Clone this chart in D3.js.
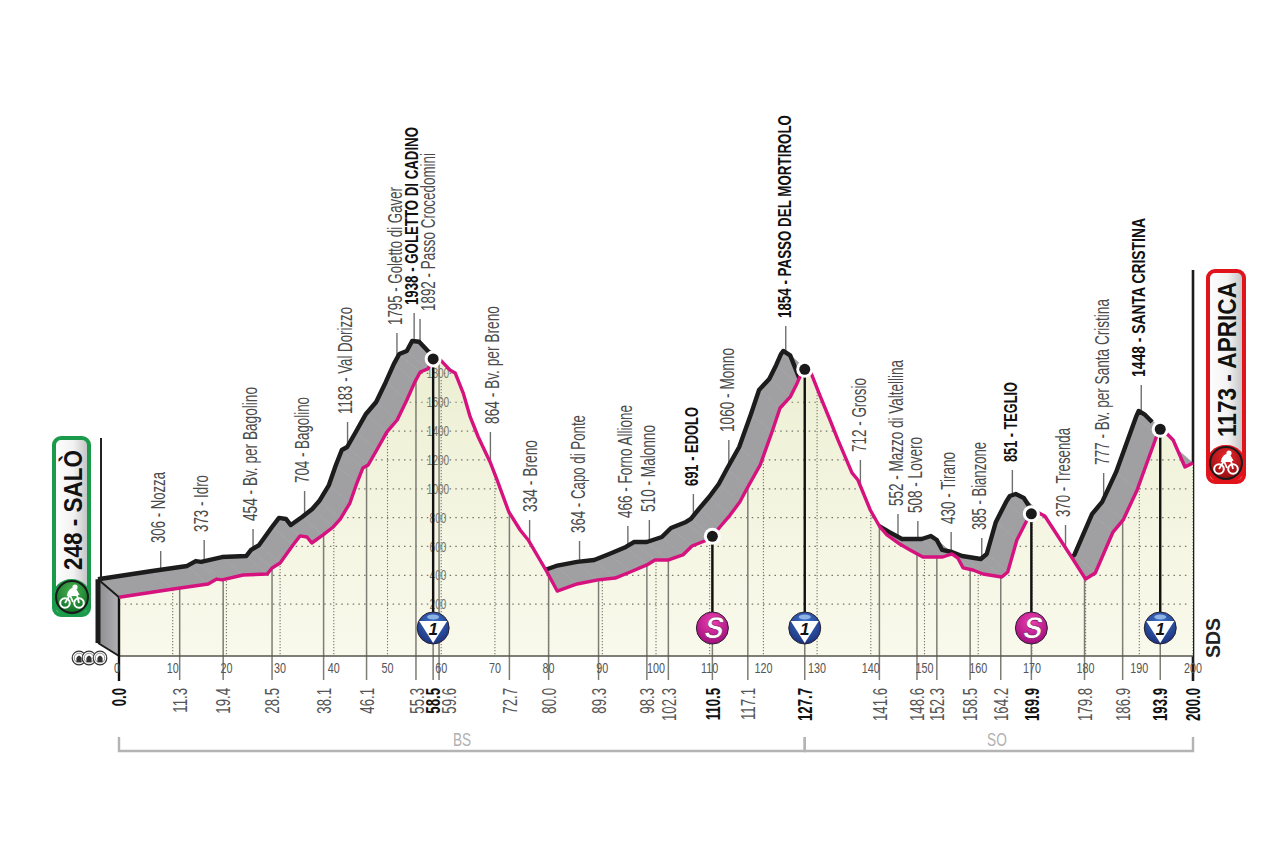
<!DOCTYPE html>
<html><head><meta charset="utf-8">
<script src="https://cdnjs.cloudflare.com/ajax/libs/d3/7.8.5/d3.min.js"></script>
<style>html,body{margin:0;padding:0;background:#fff}svg{display:block}text{font-family:"Liberation Sans",Arial,sans-serif}</style>
</head><body><svg id="c" width="1280" height="852"></svg>
<script>
// ---- data ----
const profileKm=[0,10.1,16.6,18.2,19.2,23.1,27.6,28.5,30,32.4,33.7,35,35.9,38,39.9,41.2,43,44.3,45.4,46.4,48,49.9,51.8,53.6,55.1,56.1,57.5,58.5,59.8,61.6,62.6,64.1,65.4,66.9,69.1,70.4,72.6,74.7,76.2,79.7,81.6,85.3,89.2,92.4,95.2,98.3,99.8,102.2,105,106.7,109.5,110.4,111.9,113.8,115.6,117.1,119.4,121.6,123.1,125,126.3,127.2,127.6,128.9,130.5,132.4,133.9,136.5,137.6,139.9,141.7,143,145.4,147.3,149.7,153.4,155.1,156.2,157.2,159,160.9,164.4,165.5,167.2,169.1,169.8,170.9,172.4,177.5,180,181.8,185.1,187,189.6,193.3,193.8,195,196.3,198.5,200];
const profileElev=[248,305,340,374,368,402,409,451,485,610,673,666,624,680,735,790,901,1040,1144,1165,1269,1394,1477,1616,1741,1810,1831,1900,1895,1824,1803,1664,1498,1359,1186,1061,839,714,645,423,291,340,368,381,423,472,506,506,541,603,645,666,735,818,908,1012,1165,1394,1560,1637,1734,1810,1831,1800,1650,1477,1338,1110,1061,853,735,680,617,576,527,527,548,520,451,437,409,388,423,645,784,825,839,811,520,374,416,700,784,992,1373,1415,1387,1338,1151,1179];
const labelKm=[11.3,19.4,28.5,38.1,46.1,55.3,58.5,59.6,72.7,80.0,89.3,98.3,102.3,110.5,117.1,127.7,141.6,148.6,152.3,158.5,164.2,169.9,179.8,186.9,193.9];
const labelText=["306 - Nozza","373 - Idro","454 - Bv. per Bagolino","704 - Bagolino","1183 - Val Dorizzo","1795 - Goletto di Gaver","1938 - GOLETTO DI CADINO","1892 - Passo Crocedomini","864 - Bv. per Breno","334 - Breno","364 - Capo di Ponte","466 - Forno Allione","510 - Malonno","691 - EDOLO","1060 - Monno","1854 - PASSO DEL MORTIROLO","712 - Grosio","552 - Mazzo di Valtellina","508 - Lovero","430 - Tirano","385 - Bianzone","851 - TEGLIO","370 - Tresenda","777 - Bv. per Santa Cristina","1448 - SANTA CRISTINA"];
const boldKm=[0,58.5,110.5,127.7,169.9,193.9,200];
const gridElev=[200,400,600,800,1000,1200,1400,1600,1800];
const kmTicks=d3.range(0,201,10);
const kmFormatted=d=>d.toFixed(1);
const komKm=[58.5,127.7,193.9];
const sprintKm=[110.5,169.9];
const sectors=[{name:"BS",from:0,to:127.7},{name:"SO",from:127.7,to:200}];
const startLabel="248 - SALÒ", finishLabel="1173 - APRICA", logoText="SDS";
// ---- layout of the rotated labels (separate from the values) ----
const labelBottom=[543,532,521,483,414,325,305,311,424,512,533,518,512,486,432,318,452,506,513,524,530,462,517,465,377];
const labelTop=[472,475,387,397,307,187,127,153,306,440,415,405,425,407,348,115,378,360,437,452,442,382,428,299,218];
const labelShift=[-3,-3,-3,-3,-3,-2,-3,8,1,0,-2,-3,-2,-2,-2,-2,-2,-2,-3,-3,-3,-2,-3,-2,-3];

const svg=d3.select("#c");
const x=d3.scaleLinear().domain([0,200]).range([119,1193]);
const y=d3.scaleLinear().domain([0,1800]).range([633,373.4]);
const baseY=656, stemY=681, dx=-21, dy=-18, leaderDx=-19;
const pts=profileKm.map((k,i)=>[k,profileElev[i]]);
const elevAt=d3.scaleLinear().domain(profileKm).range(profileElev);

const defs=svg.append("defs");
const lg=(id,stops,x2,y2)=>{const g=defs.append("linearGradient").attr("id",id).attr("x1",0).attr("y1",0).attr("x2",x2).attr("y2",y2);
 stops.forEach(s=>g.append("stop").attr("offset",s[0]).attr("stop-color",s[1]));};
lg("front",[[0,"#ecefd2"],[0.45,"#f3f4df"],[1,"#f9f9ec"]],0,1);
lg("badge",[[0,"#ffffff"],[0.55,"#f2f2f2"],[1,"#bfbfc1"]],1,0);
lg("wall",[[0,"#8c8c90"],[1,"#b2b2b5"]],1,0);
const rg=(id,a,b)=>{const g=defs.append("radialGradient").attr("id",id).attr("cy","30%").attr("r","75%");
 g.append("stop").attr("offset",0).attr("stop-color",a);g.append("stop").attr("offset",1).attr("stop-color",b);};
rg("kom","#3d72c8","#1a2f78");rg("spr","#ee3fb0","#9a0a78");rg("gb","#47b24f","#0c6a25");rg("rb","#e8252a","#8e0c10");

const line=d3.line().x(d=>x(d[0])).y(d=>y(d[1]));
const lineTop=d3.line().x(d=>x(d[0])+dx).y(d=>y(d[1])+dy);
const area=d3.area().x(d=>x(d[0])).y0(baseY).y1(d=>y(d[1]));
defs.append("clipPath").attr("id","frontClip").append("path").attr("d",area(pts));

// start wall
const x0=x(0), y0=y(profileElev[0]);
svg.append("path").attr("d",`M${x0+dx},${y0+dy}L${x0},${y0}L${x0},${baseY}L${x0+dx},${baseY-13}Z`).attr("fill","url(#wall)");
// leaders above the ribbon: their lower ends disappear behind ribbon and front face
svg.append("g").selectAll("line").data(labelKm).join("line")
 .attr("x1",d=>x(d)+leaderDx).attr("x2",d=>x(d)+leaderDx)
 .attr("y1",(d,i)=>labelBottom[i]+8).attr("y2",d=>y(elevAt(d))+dy+2)
 .attr("stroke","#6f6f6f").attr("stroke-width",1.4);
// ribbon, painted segment by segment
svg.append("g").selectAll("path").data(d3.pairs(pts)).join("path")
 .attr("d",([a,b])=>`M${x(a[0])},${y(a[1])}L${x(b[0])},${y(b[1])}L${x(b[0])+dx},${y(b[1])+dy}L${x(a[0])+dx},${y(a[1])+dy}Z`)
 .attr("fill","#a0a0a3").attr("stroke","#a0a0a3").attr("stroke-width",.6);
// ribbon top edge
svg.append("path").attr("d",lineTop(pts.filter(p=>p[0]<=196.3))).attr("fill","none").attr("stroke","#1c1c1c").attr("stroke-width",4.4).attr("stroke-linejoin","round");
// wall edges
svg.append("path").attr("d",`M${x0+dx},${y0+dy}L${x0+dx},${baseY-13}`).attr("stroke","#1c1c1c").attr("stroke-width",5).attr("fill","none");
svg.append("path").attr("d",`M${x0+dx},${y0+dy}L${x0},${y0}M${x0+dx},${baseY-13}L${x0},${baseY}`).attr("stroke","#1c1c1c").attr("stroke-width",2).attr("fill","none");
// flag poles
svg.append("line").attr("x1",101).attr("x2",101).attr("y1",438).attr("y2",580).attr("stroke","#222").attr("stroke-width",2);
svg.append("line").attr("x1",x(200)).attr("x2",x(200)).attr("y1",270).attr("y2",stemY).attr("stroke","#1c1c1c").attr("stroke-width",2.6);

// front face
svg.append("path").attr("d",area(pts)).attr("fill","url(#front)");
const gridG=svg.append("g").attr("clip-path","url(#frontClip)");
gridG.selectAll(".h").data(gridElev).join("line").attr("x1",x(0)).attr("x2",x(200)-3).attr("y1",y).attr("y2",y)
 .attr("stroke","#77776a").attr("stroke-width",1.2).attr("stroke-dasharray","1.5 4.2");
gridG.selectAll(".v").data(kmTicks).join("line").attr("x1",x).attr("x2",x).attr("y1",380).attr("y2",baseY)
 .attr("stroke","#77776a").attr("stroke-width",1.1).attr("stroke-dasharray","1.3 1.7");
gridG.selectAll(".gl").data(gridElev).join("text").attr("text-anchor","middle").attr("dy",".36em")
 .attr("transform",d=>`translate(438,${y(d)}) scale(.72,1)`).attr("font-size",14).attr("fill","#77776a").text(d=>d);

// km leaders (front face down to the km labels)
svg.append("g").selectAll("line").data(labelKm).join("line").attr("x1",x).attr("x2",x)
 .attr("y1",d=>y(elevAt(d))).attr("y2",stemY-1).attr("stroke","#7d7d74").attr("stroke-width",1.5);

// baseline
svg.append("line").attr("x1",x(0)).attr("x2",x(200)).attr("y1",baseY).attr("y2",baseY).attr("stroke","#55554e").attr("stroke-width",1.6);
svg.append("line").attr("x1",x0).attr("x2",x0).attr("y1",y0).attr("y2",stemY).attr("stroke","#111").attr("stroke-width",2.4);

// profile
svg.append("path").attr("d",line(pts)).attr("fill","none").attr("stroke","#d5127e").attr("stroke-width",3.4).attr("stroke-linejoin","round");

// rotated place labels
svg.append("g").selectAll("text").data(labelText).join("text")
 .attr("transform",(d,i)=>`translate(${x(labelKm[i])+leaderDx+labelShift[i]},${labelBottom[i]}) rotate(-90)`)
 .attr("dy",".36em").attr("font-size",(d,i)=>boldKm.includes(labelKm[i])?19:20)
 .attr("font-weight",(d,i)=>boldKm.includes(labelKm[i])?"bold":"normal")
 .attr("fill",(d,i)=>boldKm.includes(labelKm[i])?"#111":"#4a4a4a")
 .attr("textLength",(d,i)=>labelBottom[i]-labelTop[i]).attr("lengthAdjust","spacingAndGlyphs").text(d=>d);

// axis
svg.append("g").selectAll("text").data(kmTicks).join("text").attr("text-anchor","middle")
 .attr("transform",d=>`translate(${x(d)-(d===0?2:0)},673) scale(.72,1)`).attr("font-size",15).attr("fill","#555").text(d=>d);
const allKm=[0,...labelKm,200];
const kmShift=d=>d===59.6?10:(d===55.3?1:0);
svg.append("g").selectAll("text").data(allKm).join("text")
 .attr("transform",d=>`translate(${x(d)+kmShift(d)},688) rotate(-90) scale(.66,1)`).attr("text-anchor","end").attr("dy",".36em")
 .attr("font-size",20).attr("font-weight",d=>boldKm.includes(d)?"bold":"normal").attr("fill",d=>boldKm.includes(d)?"#111":"#555").text(kmFormatted);

// stems and markers
const markers=[...komKm.map(k=>({k,t:"k"})),...sprintKm.map(k=>({k,t:"s"}))];
const mg=svg.append("g").selectAll("g").data(markers).join("g");
mg.append("line").attr("x1",d=>x(d.k)).attr("x2",d=>x(d.k)).attr("y1",d=>y(elevAt(d.k))).attr("y2",628).attr("stroke","#111").attr("stroke-width",2.4);
mg.append("circle").attr("cx",d=>x(d.k)).attr("cy",d=>y(elevAt(d.k))).attr("r",8.5).attr("fill","#fff");
mg.append("circle").attr("cx",d=>x(d.k)).attr("cy",d=>y(elevAt(d.k))).attr("r",5.5).attr("fill","#1a1a1a");
mg.append("circle").attr("cx",d=>x(d.k)).attr("cy",628).attr("r",16).attr("fill",d=>d.t==="k"?"url(#kom)":"url(#spr)").attr("stroke","#2b2030").attr("stroke-width",1);
const km=mg.filter(d=>d.t==="k").append("g").attr("transform",d=>`translate(${x(d.k)},628)`);
km.append("path").attr("d","M-14,-7L14,-7L0,15Z").attr("fill","#fff");
km.append("ellipse").attr("cy",-11).attr("rx",6).attr("ry",2.6).attr("fill","#8fb3e4");
km.append("text").attr("text-anchor","middle").attr("y",7).attr("font-size",17).attr("font-weight","bold").attr("font-style","italic").attr("fill","#111").text("1");
mg.filter(d=>d.t==="s").append("text").attr("text-anchor","middle").attr("transform",d=>`translate(${x(d.k)},638) skewX(-12) scale(.95,1)`)
 .attr("font-size",30).attr("font-weight","bold").attr("fill","#fff").attr("stroke","#7a0a60").attr("stroke-width",.6).text("S");

// sectors
const sec=svg.append("g");
sec.selectAll("path").data(sectors).join("path")
 .attr("d",d=>`M${x(d.from)},737V751H${x(d.to)}V737`).attr("fill","none").attr("stroke","#b4b4b4").attr("stroke-width",2.4);
sec.selectAll("text").data(sectors).join("text").attr("text-anchor","middle")
 .attr("transform",(d,i)=>`translate(${i===0?462:997},746) scale(.72,1)`).attr("font-size",19).attr("fill","#b0b0b0").text(d=>d.name);

// start and finish badges
function bike(g,cx,cy){const b=g.append("g").attr("transform",`translate(${cx},${cy})`).attr("fill","none").attr("stroke","#fff").attr("stroke-width",2);
 b.append("circle").attr("cx",-7).attr("cy",6).attr("r",4.8);b.append("circle").attr("cx",7).attr("cy",6).attr("r",4.8);
 b.append("path").attr("d","M-7,6L-2,-2L5,-2L7,6M-2,-2L1,5").attr("stroke-width",1.8);
 b.append("path").attr("d","M-4,-2Q-2,-9 3,-8L6,-3Z").attr("fill","#fff");b.append("circle").attr("cx",3).attr("cy",-10).attr("r",2.6).attr("fill","#fff").attr("stroke","none");}
function badge(bx,by,w,h,col,grad,label,tx,ty,len,cx,cy){
 const g=svg.append("g");
 g.append("rect").attr("x",bx).attr("y",by).attr("width",w).attr("height",h).attr("rx",7).attr("fill","url(#badge)").attr("stroke",col).attr("stroke-width",4);
 g.append("rect").attr("x",bx-2).attr("y",cy-18).attr("width",w+4).attr("height",by+h-cy+20).attr("rx",19.5).attr("fill",col);
 g.append("text").attr("transform",`translate(${tx},${ty}) rotate(-90)`).attr("dy",".36em").attr("font-size",26).attr("font-weight","bold").attr("fill","#111")
  .attr("textLength",len).attr("lengthAdjust","spacingAndGlyphs").text(label);
 g.append("circle").attr("cx",cx).attr("cy",cy).attr("r",16).attr("fill",`url(#${grad})`).attr("stroke","#1a1a1a").attr("stroke-width",2);
 bike(g,cx,cy);
}
badge(54,438,35,177,"#1a9b4b","gb",startLabel,73,570,120,72,597);
badge(1208,271,36,211,"#e1141c","rb",finishLabel,1227,437,155,1226,463);

// tunnel glyphs
svg.append("g").selectAll("g").data([79,89,100]).join("g").each(function(cx){
 const g=d3.select(this);
 g.append("circle").attr("cx",cx).attr("cy",658).attr("r",6.8).attr("fill","#fff").attr("stroke","#333").attr("stroke-width",1.2);
 g.append("circle").attr("cx",cx).attr("cy",658).attr("r",4.8).attr("fill","none").attr("stroke","#777").attr("stroke-width",.8);
 g.append("path").attr("d",`M${cx-2.6},662V658Q${cx},653 ${cx+2.6},658V662Z`).attr("fill","#333");
});
// logo
svg.append("text").attr("transform","translate(1213,658) rotate(-90)").attr("dy",".36em").attr("font-size",20).attr("font-weight","bold").attr("fill","#222")
 .attr("textLength",40).attr("lengthAdjust","spacingAndGlyphs").text(logoText);
</script></body></html>
